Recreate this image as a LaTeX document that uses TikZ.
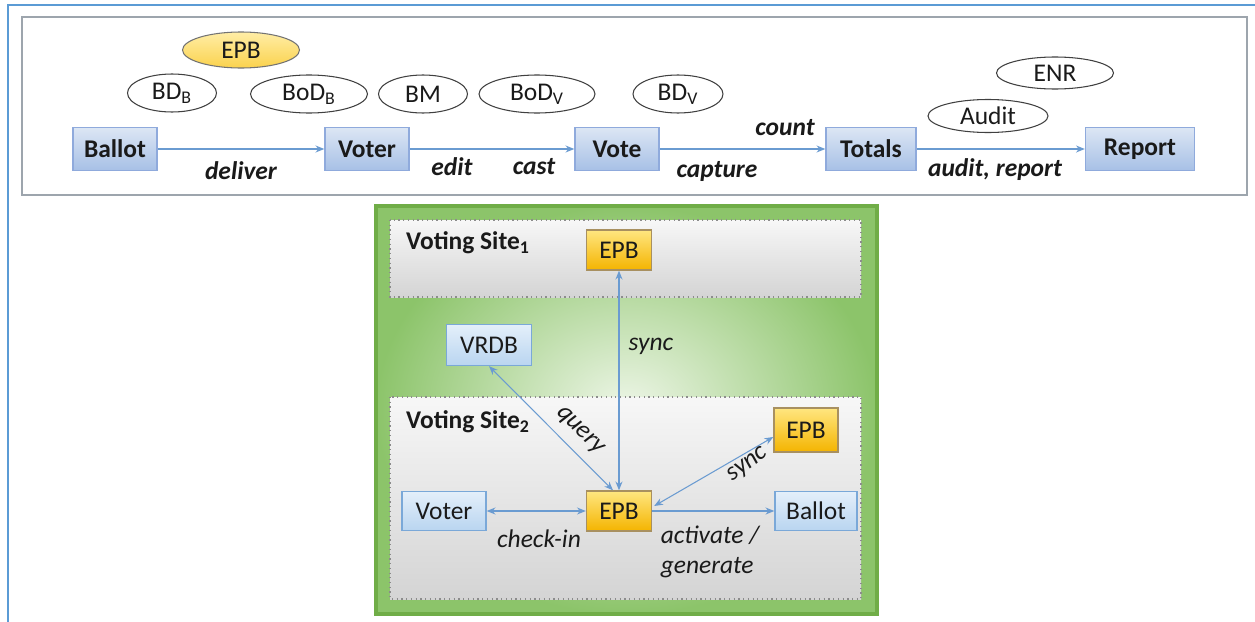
\documentclass[tikz,border=0pt]{standalone}
\usepackage{fontspec}
\setmainfont{Carlito}
\usetikzlibrary{arrows.meta,shapes.geometric,calc}
\definecolor{frameblue}{HTML}{5B9BD5}
\definecolor{framegray}{HTML}{9DA5AD}
\definecolor{linkblue}{HTML}{6A9BD1}
\definecolor{boxtop}{HTML}{DCE6F4}
\definecolor{boxbot}{HTML}{A7C0E6}
\definecolor{boxline}{HTML}{8FAADC}
\definecolor{ltop}{HTML}{E4EFFA}
\definecolor{lbot}{HTML}{B9D5F0}
\definecolor{lline}{HTML}{7AA8D8}
\definecolor{ytop}{HTML}{FFE680}
\definecolor{ybot}{HTML}{F4B400}
\definecolor{yline}{HTML}{A89060}
\definecolor{greenedge}{HTML}{70AD47}
\definecolor{greenout}{HTML}{8CC46A}
\definecolor{greenin}{HTML}{EEF6E8}
\definecolor{sitetop}{HTML}{F7F7F7}
\definecolor{sitebot}{HTML}{D4D4D4}
\definecolor{ink}{HTML}{1A1A1A}
\begin{document}
\begin{tikzpicture}[x=0.02cm,y=-0.02cm,
  every node/.style={font=\fontsize{14.5}{17}\selectfont, text=ink},
  flowbox/.style={draw=boxline, line width=0.8pt, top color=boxtop, bottom color=boxbot,
    minimum height=8.6mm, inner sep=0pt, font=\fontsize{14.5}{17}\selectfont\bfseries},
  artefact/.style={ellipse, draw=black!75, line width=0.6pt, fill=white,
    minimum height=7.6mm, inner sep=0pt},
  epbell/.style={artefact, top color=ytop!70!white, bottom color=ytop!60!ybot, draw=black!55},
  flowlbl/.style={font=\fontsize{14.5}{17}\selectfont\bfseries\itshape},
  sitelbl/.style={font=\fontsize{14.5}{17}\selectfont\itshape},
  lightbox/.style={draw=lline, line width=0.8pt, top color=ltop, bottom color=lbot,
    minimum height=7.8mm, inner sep=0pt},
  epbbox/.style={draw=yline, line width=0.8pt, top color=ytop, bottom color=ybot,
    minimum width=13mm, minimum height=8mm, inner sep=0pt},
  link/.style={draw=linkblue, line width=0.6pt, -{Stealth[length=5pt,width=4pt]}},
  blink/.style={draw=linkblue, line width=0.6pt, {Stealth[length=5pt,width=4pt]}-{Stealth[length=5pt,width=4pt]}},
  sitebox/.style={draw=black!45, dotted, line width=0.7pt, top color=sitetop, bottom color=sitebot}
]
\useasboundingbox (0,0) rectangle (1255,622);

% outer frame edges
\draw[frameblue, line width=1.3pt] (1255,5) -- (8,5) -- (8,622);

% process chain frame
\draw[framegray, line width=1.3pt, fill=white] (22,17) rectangle (1247,195);

% process steps
\node[flowbox, minimum width=16.8mm] (ballot) at (115,149) {Ballot};
\node[flowbox, minimum width=16.8mm] (voter)  at (367,149) {Voter};
\node[flowbox, minimum width=16.8mm] (vote)   at (617,149) {Vote};
\node[flowbox, minimum width=18mm]   (totals) at (871,149) {Totals};
\node[flowbox, minimum width=21.8mm] (report) at (1140,149) {Report};

\draw[link] (ballot) -- (voter);
\draw[link] (voter) -- (vote);
\draw[link] (vote) -- (totals);
\draw[link] (totals) -- (report);

% artefacts
\node[epbell, minimum width=23.4mm, minimum height=7.2mm] (epbtop) at (241,50) {EPB};
\node[artefact, minimum width=17.8mm] (bdb)  at (172,93) {BD\textsubscript{B}};
\node[artefact, minimum width=23.4mm] (bodb) at (309,94) {BoD\textsubscript{B}};
\node[artefact, minimum width=17.8mm] (bm)   at (423,94) {BM};
\node[artefact, minimum width=23.2mm] (bodv) at (537,94) {BoD\textsubscript{V}};
\node[artefact, minimum width=18mm]   (bdv)  at (678,94) {BD\textsubscript{V}};
\node[artefact, minimum width=23.4mm, minimum height=6.4mm] (enr)   at (1055,73) {ENR};
\node[artefact, minimum width=24mm,   minimum height=6.6mm] (audit) at (988,116) {Audit};

% step labels
\node[flowlbl] (ldeliver) at (241,171) {deliver};
\node[flowlbl] (ledit)    at (452,167) {edit};
\node[flowlbl] (lcast)    at (534,167) {cast};
\node[flowlbl] (lcapture) at (717,171) {capture};
\node[flowlbl] (lcount)   at (785,128) {count};
\node[flowlbl] (laudit)   at (995,170) {audit, report};

% polling place panel
\draw[greenedge, line width=2pt, inner color=greenin, outer color=greenout] (376,206) rectangle (877,614);
\draw[sitebox] (390,220) rectangle (861,297);
\draw[sitebox] (390,397) rectangle (861,599);
\node[anchor=west, font=\fontsize{14.5}{17}\selectfont\bfseries] (site1) at (400,243) {Voting Site\textsubscript{1}};
\node[anchor=west, font=\fontsize{14.5}{17}\selectfont\bfseries] (site2) at (400,422) {Voting Site\textsubscript{2}};

\node[epbbox] (epb1) at (619,250) {EPB};
\node[lightbox, minimum width=17mm, minimum height=8.2mm] (vrdb) at (489,345) {VRDB};
\node[epbbox] (epb2) at (619,511) {EPB};
\node[lightbox, minimum width=16.8mm] (voter2) at (444,511) {Voter};
\node[lightbox, minimum width=16.4mm] (ballot2) at (816,511) {Ballot};
\node[epbbox, minimum width=12.8mm, minimum height=8.8mm] (epbr) at (806,430) {EPB};

\draw[blink] (epb2.north) -- (epb1.south);
\draw[blink] (vrdb.south) -- ($(epb2.north)+(-6,0)$);
\draw[blink] (voter2.east) -- (epb2.west);
\draw[link] (epb2.east) -- (ballot2.west);
\draw[blink] ($(epb2.east)+(2,-5)$) -- ($(epbr.west)+(0,7)$);

\node[sitelbl] (lsync1) at (651,346) {sync};
\node[sitelbl, rotate=-45] (lquery) at (580,431) {query};
\node[sitelbl, rotate=36] (lsync2) at (748,465) {sync};
\node[sitelbl] (lcheck) at (539,539) {check-in};
\node[sitelbl, align=left] (lact) at (710,552) {activate /\\generate};
\end{tikzpicture}
\end{document}
